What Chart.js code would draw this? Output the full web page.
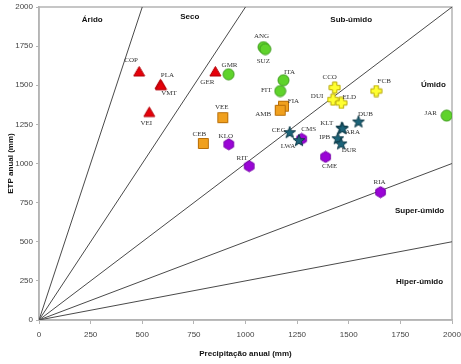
<!DOCTYPE html>
<html>
<head>
<meta charset="utf-8">
<script src="https://cdn.jsdelivr.net/npm/chart.js"></script>
<style>
  body { margin: 0; background: #fff; }
  canvas { display: block; }
</style>
</head>
<body>
<canvas id="chart" width="461" height="364"></canvas>
<script>
// Thornthwaite zones: ETP anual x Precipitação anual, by station group

// boundary lines from origin (P, ETP at chart edge)
const boundaryP = [500, 1000, 2000, 2000, 2000];
const boundaryEtp = [2000, 2000, 2000, 1000, 500];

// zone names and where they sit (data coords)
const zoneNames = ['Árido', 'Seco', 'Sub-úmido', 'Úmido', 'Super-úmido', 'Hiper-úmido'];
const zoneP = [258, 730, 1512, 1910, 1843, 1843];
const zoneEtp = [1921, 1935, 1921, 1506, 696, 245];

// red triangles
const triNames = ['COP', 'PLA', 'VMT', 'VEI', 'GER'];
const triP = [485, 588, 591, 534, 854];
const triEtp = [1588, 1506, 1500, 1329, 1588];

// green circles
const circNames = ['GMR', 'ANG', 'SUZ', 'ITA', 'FIT', 'JAR'];
const circP = [918, 1087, 1096, 1184, 1168, 1974];
const circEtp = [1570, 1744, 1731, 1532, 1463, 1306];

// orange squares
const sqNames = ['FIA', 'AMB', 'VEE', 'CEB'];
const sqP = [1184, 1168, 890, 796];
const sqEtp = [1366, 1340, 1293, 1128];

// yellow crosses
const crossNames = ['CCO', 'DUI', 'ELD', 'FCB'];
const crossP = [1432, 1424, 1464, 1633];
const crossEtp = [1485, 1408, 1387, 1463];

// dark stars
const starNames = ['CEG', 'LWA', 'KLT', 'ARA', 'DUB', 'IPB', 'DUR'];
const starP = [1214, 1259, 1466, 1470, 1547, 1447, 1463];
const starEtp = [1200, 1149, 1229, 1225, 1268, 1161, 1128];

// purple hexagons
const hexNames = ['CMS', 'CME', 'RIT', 'KLO', 'RIA'];
const hexP = [1272, 1388, 1018, 919, 1654];
const hexEtp = [1157, 1042, 983, 1123, 817];

const ticks = [0, 250, 500, 750, 1000, 1250, 1500, 1750, 2000];

// label offsets in px (dx, dy) from the marker
const labelOffset = {
  COP: [-8, -11], PLA: [7, -9], VMT: [8, 8], VEI: [-3, 11], GER: [-8, 11],
  GMR: [1, -9], ANG: [-2, -11], SUZ: [-2, 12], ITA: [6, -8], FIT: [-14, -1], JAR: [-16, -2],
  FIA: [10, -5], AMB: [-17, 4], VEE: [-1, -10], CEB: [-4, -9],
  CCO: [-5, -10], DUI: [-16, -3], ELD: [8, -6], FCB: [8, -10],
  CEG: [-11, -2], LWA: [-11, 6], KLT: [-15, -5], ARA: [10, 4], DUB: [7, -7], IPB: [-13, -1], DUR: [8, 7],
  CMS: [7, -10], CME: [4, 9], RIT: [-7, -8], KLO: [-3, -8], RIA: [-1, -10]
};

function icon(size, draw) {
  const c = document.createElement('canvas');
  c.width = c.height = size;
  const g = c.getContext('2d');
  draw(g, size / 2);
  return c;
}

function poly(g, pts, fill, stroke) {
  g.beginPath();
  pts.forEach((p, i) => i ? g.lineTo(p[0], p[1]) : g.moveTo(p[0], p[1]));
  g.closePath();
  g.fillStyle = fill;
  g.fill();
  g.strokeStyle = stroke;
  g.lineWidth = 1;
  g.stroke();
}

const triIcon = icon(13, (g, c) => poly(g, [[c, 1.5], [c + 5.5, 11], [c - 5.5, 11]], '#e6000a', '#b00008'));
const circIcon = icon(13, (g, c) => {
  g.beginPath(); g.arc(c, c, 5.5, 0, Math.PI * 2);
  g.fillStyle = '#5fd32b'; g.fill();
  g.strokeStyle = '#3c9a1c'; g.lineWidth = 1; g.stroke();
});
const sqIcon = icon(13, (g, c) => poly(g, [[1.5, 1.5], [11.5, 1.5], [11.5, 11.5], [1.5, 11.5]], '#f0a01e', '#b86e08'));
const crossIcon = icon(13, (g, c) => {
  const a = 2.2, b = 5.5;
  poly(g, [[c - a, c - b], [c + a, c - b], [c + a, c - a], [c + b, c - a], [c + b, c + a], [c + a, c + a],
    [c + a, c + b], [c - a, c + b], [c - a, c + a], [c - b, c + a], [c - b, c - a], [c - a, c - a]], '#ffff30', '#b8a800');
});
const starIcon = icon(14, (g, c) => {
  const pts = [];
  for (let i = 0; i < 10; i++) {
    const r = i % 2 ? 2.6 : 6.2;
    const a = -Math.PI / 2 + i * Math.PI / 5;
    pts.push([c + r * Math.cos(a), c + 0.5 + r * Math.sin(a)]);
  }
  poly(g, pts, '#1c6378', '#0d3a48');
});
const hexIcon = icon(13, (g, c) => {
  const pts = [];
  for (let i = 0; i < 6; i++) {
    const a = Math.PI / 6 + i * Math.PI / 3;
    pts.push([c + 5.5 * Math.cos(a), c + 5.5 * Math.sin(a)]);
  }
  poly(g, pts, '#9a05d6', '#7400a8');
});

function group(names, p, etp, style) {
  return {
    names: names,
    data: p.map((v, i) => ({ x: v, y: etp[i] })),
    pointStyle: style,
    pointRadius: 6,
    pointHoverRadius: 6
  };
}

const datasets = [
  group(starNames, starP, starEtp, starIcon),
  group(hexNames, hexP, hexEtp, hexIcon),
  group(crossNames, crossP, crossEtp, crossIcon),
  group(sqNames, sqP, sqEtp, sqIcon),
  group(circNames, circP, circEtp, circIcon),
  group(triNames, triP, triEtp, triIcon)
];
boundaryP.forEach((p, i) => {
  datasets.push({
    data: [{ x: 0, y: 0 }, { x: p, y: boundaryEtp[i] }],
    showLine: true,
    borderColor: '#4a4a4a',
    borderWidth: 1,
    pointRadius: 0
  });
});

const labelsPlugin = {
  id: 'labels',
  afterDatasetsDraw(chart) {
    const ctx = chart.ctx;
    const xs = chart.scales.x, ys = chart.scales.y;
    ctx.save();
    ctx.textAlign = 'center';
    ctx.textBaseline = 'middle';
    // station names
    ctx.font = '7px "Liberation Serif", serif';
    ctx.fillStyle = '#333';
    chart.data.datasets.forEach((ds, di) => {
      if (!ds.names) return;
      chart.getDatasetMeta(di).data.forEach((pt, i) => {
        const off = labelOffset[ds.names[i]] || [0, -10];
        ctx.fillText(ds.names[i], pt.x + off[0], pt.y + off[1]);
      });
    });
    // zone names
    ctx.font = 'bold 8px "Liberation Sans", Arial, sans-serif';
    ctx.fillStyle = '#111';
    zoneNames.forEach((n, i) => {
      ctx.fillText(n, xs.getPixelForValue(zoneP[i]), ys.getPixelForValue(zoneEtp[i]));
    });
    ctx.restore();
  },
  beforeDatasetsDraw(chart) {
    const a = chart.chartArea, ctx = chart.ctx;
    ctx.save();
    ctx.strokeStyle = '#b4b4b4';
    ctx.lineWidth = 1.5;
    ctx.strokeRect(a.left, a.top, a.right - a.left, a.bottom - a.top);
    ctx.restore();
  }
};

const tickFont = { family: '"Liberation Sans Narrow", "Liberation Sans", Arial, sans-serif', size: 8 };
const titleFont = { family: '"Liberation Sans", Arial, sans-serif', size: 8, weight: 'bold' };

new Chart(document.getElementById('chart'), {
  type: 'scatter',
  data: { datasets: datasets },
  options: {
    responsive: false,
    animation: false,
    layout: { padding: { top: 7, right: 9, left: 0, bottom: 0 } },
    plugins: { legend: { display: false }, tooltip: { enabled: false } },
    scales: {
      x: {
        type: 'linear', min: 0, max: 2000,
        afterBuildTicks: s => { s.ticks = ticks.map(v => ({ value: v })); },
        afterFit: s => { s.height = 44; s.paddingLeft = 0; s.paddingRight = 0; },
        ticks: { font: tickFont, color: '#444', padding: 6, maxRotation: 0, callback: v => String(v) },
        grid: { drawOnChartArea: false, drawTicks: true, tickLength: 4, color: '#b4b4b4' },
        border: { color: '#b4b4b4', width: 1.5 },
        title: { display: true, text: 'Precipitação anual (mm)', font: titleFont, color: '#111', padding: { top: 0, bottom: 5 } }
      },
      y: {
        type: 'linear', min: 0, max: 2000,
        afterBuildTicks: s => { s.ticks = ticks.map(v => ({ value: v })); },
        afterFit: s => { s.width = 39; s.paddingTop = 0; s.paddingBottom = 0; },
        ticks: { font: tickFont, color: '#444', padding: 3, callback: v => String(v) },
        grid: { drawOnChartArea: false, drawTicks: true, tickLength: 3, color: '#b4b4b4' },
        border: { color: '#b4b4b4', width: 1.5 },
        title: { display: true, text: 'ETP anual (mm)', font: titleFont, color: '#111', padding: { top: 6, bottom: 0 } }
      }
    }
  },
  plugins: [labelsPlugin]
});
</script>
</body>
</html>
